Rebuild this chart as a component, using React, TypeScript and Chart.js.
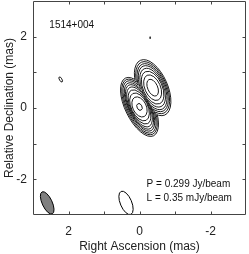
import React, { useEffect, useRef } from "react";
import { Chart, registerables } from "chart.js";

Chart.register(...registerables);

// ---- text ----
const SOURCE_NAME = "1514+004";
const PEAK_LABEL = "P = 0.299 Jy/beam";
const LOWEST_LABEL = "L = 0.35 mJy/beam";
const X_TITLE = "Right Ascension (mas)";
const Y_TITLE = "Relative Declination (mas)";

// ---- axes (mas) ----
const AXIS_MIN = -3;
const AXIS_MAX = 3;
const TICK_VALUES = [-3, -2, -1, 0, 1, 2, 3];
const LABELLED_TICKS = [-2, 0, 2];

// ---- component A (core): centre RA, Dec (mas), position angle (deg) ----
const compACenter = [0.0, 0.03];
const compAPA = 26;
// contour rings from lowest level inwards (semi-axes in mas)
const compAMajor = [0.9, 0.85, 0.8, 0.74, 0.68, 0.61, 0.52, 0.42, 0.3, 0.1];
const compAMinor = [0.4, 0.37, 0.34, 0.31, 0.29, 0.27, 0.25, 0.23, 0.19, 0.07];

// ---- component B (jet knot) ----
const compBCenter = [-0.37, 0.57];
const compBPA = 24;
const compBMajor = [0.84, 0.78, 0.72, 0.66, 0.58, 0.49, 0.38, 0.25];
const compBMinor = [0.42, 0.39, 0.36, 0.33, 0.3, 0.27, 0.22, 0.14];

// ---- isolated lowest-level islands ----
const islandRA = [2.22, -0.3];
const islandDec = [0.8, 1.97];
const islandMajor = [0.08, 0.03];
const islandMinor = [0.035, 0.01];
const islandPA = [30, 0];

// ---- restoring beam (filled) and open ellipse ----
const beamRA = 2.6;
const beamDec = -2.66;
const beamMajor = 0.34;
const beamMinor = 0.14;
const beamPA = 25;

const openRA = 0.38;
const openDec = -2.66;
const openMajor = 0.35;
const openMinor = 0.16;
const openPA = 23;

const FONT = "'Liberation Sans', Arial, Helvetica, sans-serif";

function ellipseParams(chart: any, ra: number, dec: number, maj: number, min: number, pa: number) {
  const xs = chart.scales.x;
  const ys = chart.scales.y;
  const cx = xs.getPixelForValue(ra);
  const cy = ys.getPixelForValue(dec);
  const kx = Math.abs(xs.getPixelForValue(1) - xs.getPixelForValue(0));
  const ky = Math.abs(ys.getPixelForValue(1) - ys.getPixelForValue(0));
  return { cx, cy, rx: min * kx, ry: maj * ky, rot: (-pa * Math.PI) / 180 };
}

function addEllipse(path: Path2D, e: any) {
  const sub = new Path2D();
  sub.ellipse(e.cx, e.cy, e.rx, e.ry, e.rot, 0, Math.PI * 2);
  path.addPath(sub);
}

const contourPlugin = {
  id: "contours",
  afterDatasetsDraw(chart: any) {
    const ctx = chart.ctx as CanvasRenderingContext2D;
    const area = chart.chartArea;
    ctx.save();
    ctx.beginPath();
    ctx.rect(area.left, area.top, area.right - area.left, area.bottom - area.top);
    ctx.clip();
    ctx.strokeStyle = "#000";
    ctx.lineWidth = 0.9;

    const nA = compAMajor.length;
    const nB = compBMajor.length;
    const levels = Math.max(nA, nB);
    for (let i = 0; i < levels; i++) {
      const eA =
        i < nA
          ? ellipseParams(chart, compACenter[0], compACenter[1], compAMajor[i], compAMinor[i], compAPA)
          : null;
      const eB =
        i < nB
          ? ellipseParams(chart, compBCenter[0], compBCenter[1], compBMajor[i], compBMinor[i], compBPA)
          : null;
      const pairs: [any, any][] = [
        [eA, eB],
        [eB, eA],
      ];
      for (const [draw, other] of pairs) {
        if (!draw) continue;
        ctx.save();
        if (other) {
          const clip = new Path2D();
          clip.rect(0, 0, chart.width, chart.height);
          addEllipse(clip, other);
          ctx.clip(clip, "evenodd");
        }
        const p = new Path2D();
        addEllipse(p, draw);
        ctx.stroke(p);
        ctx.restore();
      }
    }

    for (let i = 0; i < islandRA.length; i++) {
      const p = new Path2D();
      addEllipse(p, ellipseParams(chart, islandRA[i], islandDec[i], islandMajor[i], islandMinor[i], islandPA[i]));
      ctx.stroke(p);
    }

    // beam
    const bp = new Path2D();
    addEllipse(bp, ellipseParams(chart, beamRA, beamDec, beamMajor, beamMinor, beamPA));
    ctx.fillStyle = "#7f7f7f";
    ctx.fill(bp);
    ctx.lineWidth = 1;
    ctx.stroke(bp);

    const op = new Path2D();
    addEllipse(op, ellipseParams(chart, openRA, openDec, openMajor, openMinor, openPA));
    ctx.stroke(op);

    // annotations
    const xs = chart.scales.x;
    const ys = chart.scales.y;
    ctx.fillStyle = "#111";
    ctx.font = `10px ${FONT}`;
    ctx.textAlign = "left";
    ctx.textBaseline = "middle";
    ctx.fillText(SOURCE_NAME, xs.getPixelForValue(2.54), ys.getPixelForValue(2.32));
    ctx.fillText(PEAK_LABEL, xs.getPixelForValue(-0.2), ys.getPixelForValue(-2.14));
    ctx.fillText(LOWEST_LABEL, xs.getPixelForValue(-0.2), ys.getPixelForValue(-2.53));
    ctx.restore();
  },
  afterDraw(chart: any) {
    const ctx = chart.ctx as CanvasRenderingContext2D;
    const a = chart.chartArea;
    const xs = chart.scales.x;
    const ys = chart.scales.y;
    const T = 3;
    ctx.save();
    ctx.strokeStyle = "#444";
    ctx.lineWidth = 1;
    ctx.beginPath();
    const L = Math.round(a.left) + 0.5;
    const R = Math.round(a.right) - 0.5;
    const Tp = Math.round(a.top) + 0.5;
    const B = Math.round(a.bottom) - 0.5;
    ctx.rect(L, Tp, R - L, B - Tp);
    for (const v of TICK_VALUES) {
      if (v === AXIS_MIN || v === AXIS_MAX) continue;
      const x = Math.round(xs.getPixelForValue(v)) + 0.5;
      ctx.moveTo(x, B);
      ctx.lineTo(x, B - T);
      ctx.moveTo(x, Tp);
      ctx.lineTo(x, Tp + T);
      const y = Math.round(ys.getPixelForValue(v)) + 0.5;
      ctx.moveTo(L, y);
      ctx.lineTo(L + T, y);
      ctx.moveTo(R, y);
      ctx.lineTo(R - T, y);
    }
    ctx.stroke();
    ctx.restore();
  },
};

export default function App() {
  const ref = useRef<HTMLCanvasElement | null>(null);

  useEffect(() => {
    if (!ref.current) return;
    const tickFont = { family: FONT, size: 12 };
    const titleFont = { family: FONT, size: 12 };
    const chart = new Chart(ref.current, {
      type: "scatter",
      data: { datasets: [{ data: [], pointRadius: 0 }] },
      plugins: [contourPlugin],
      options: {
        animation: false,
        responsive: false,
        events: [],
        layout: { padding: { top: 1, right: 3, left: 0, bottom: 0 } },
        plugins: { legend: { display: false }, tooltip: { enabled: false } },
        scales: {
          x: {
            type: "linear",
            position: "bottom",
            reverse: true,
            min: AXIS_MIN,
            max: AXIS_MAX,
            afterBuildTicks: (s: any) => {
              s.ticks = TICK_VALUES.map((v) => ({ value: v }));
            },
            afterFit: (s: any) => {
              s.height = 39;
              s.paddingLeft = 0;
              s.paddingRight = 0;
            },
            ticks: {
              autoSkip: false,
              maxRotation: 0,
              minRotation: 0,
              padding: 9,
              color: "#222",
              font: tickFont,
              callback: (v: any) => (LABELLED_TICKS.includes(Number(v)) ? String(v) : ""),
            },
            grid: { display: false, drawTicks: false },
            border: { display: false },
            title: { display: true, text: X_TITLE, color: "#222", font: titleFont, padding: { top: 0, bottom: 0 } },
          },
          y: {
            type: "linear",
            position: "left",
            min: AXIS_MIN,
            max: AXIS_MAX,
            afterBuildTicks: (s: any) => {
              s.ticks = TICK_VALUES.map((v) => ({ value: v }));
            },
            afterFit: (s: any) => {
              s.width = 33;
              s.paddingTop = 0;
              s.paddingBottom = 0;
            },
            ticks: {
              autoSkip: false,
              padding: 6,
              color: "#222",
              font: tickFont,
              callback: (v: any) => (LABELLED_TICKS.includes(Number(v)) ? String(v) : ""),
            },
            grid: { display: false, drawTicks: false },
            border: { display: false },
            title: { display: true, text: Y_TITLE, color: "#222", font: titleFont, padding: { top: 2, bottom: 0 } },
          },
        },
      },
    } as any);
    return () => chart.destroy();
  }, []);

  return (
    <div style={{ position: "absolute", left: 0, top: 0, width: 249, height: 254, background: "#fff" }}>
      <canvas ref={ref} width={249} height={254} style={{ display: "block", width: 249, height: 254 }} />
    </div>
  );
}
